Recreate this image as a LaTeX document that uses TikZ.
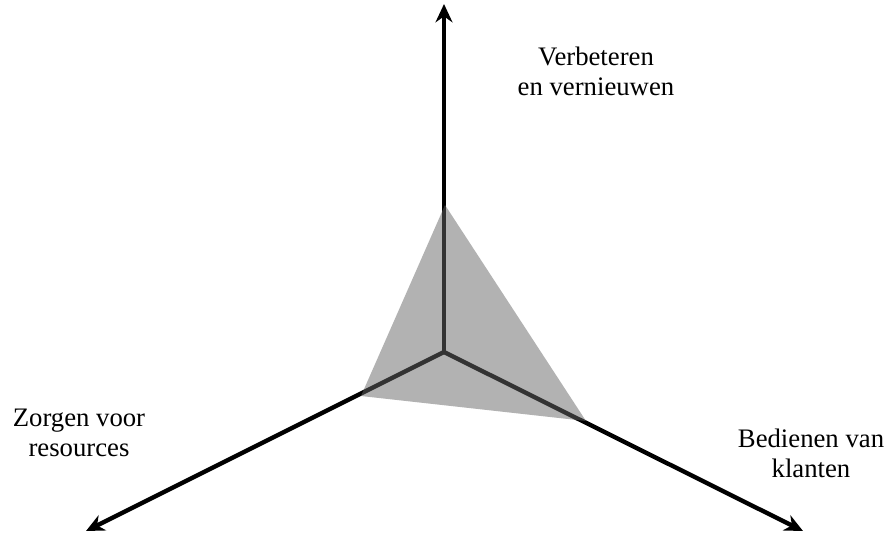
\documentclass[tikz,border=0pt]{standalone}
\usepackage{fontspec}
\setmainfont{Liberation Serif}
\usetikzlibrary{arrows.meta,positioning}

\begin{document}
\begin{tikzpicture}[
  x=0.025cm, y=-0.025cm,
  >={Stealth[length=13pt,width=12pt]},
  % axes
  axis/.style={black, line width=3.1pt, ->},
  % score area
  area/.style={fill=black!60, fill opacity=0.5, draw=none},
  % axis labels
  lbl/.style={font=\fontsize{19}{21.5}\selectfont, align=center, inner sep=0pt},
]
\useasboundingbox (0,0) rectangle (892,532);

% ── Axis points ─────────────────────────────────────────────────────────
\coordinate (o)     at (444,352);
\coordinate (top)   at (444,4);
\coordinate (left)  at (86,531);
\coordinate (right) at (803,531);

% ── Axes ─────────────────────────────────────────────────────────────────
\draw[axis] (o) -- (top);
\draw[axis] (o) -- (left);
\draw[axis] (o) -- (right);

% ── Score triangle ───────────────────────────────────────────────────────
\coordinate (pT) at (445,205);
\coordinate (pL) at (361,396);
\coordinate (pR) at (586,421);
\fill[area] (pT) -- (pL) -- (pR) -- cycle;

% ── Labels ───────────────────────────────────────────────────────────────
\node[lbl] (lTop)   at (596,71)  {Verbeteren\\en vernieuwen};
\node[lbl] (lLeft)  at (79,433)  {Zorgen voor\\resources};
\node[lbl] (lRight) at (811,453) {Bedienen van\\klanten};

\end{tikzpicture}
\end{document}
